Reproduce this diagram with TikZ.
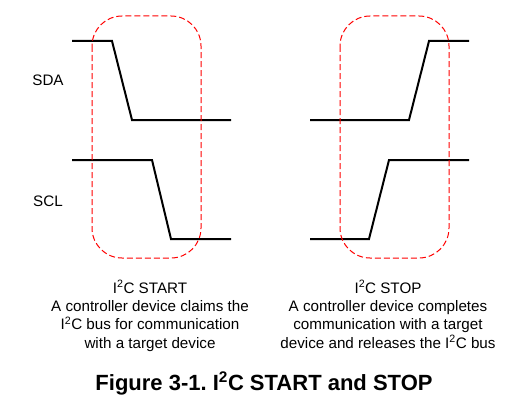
\documentclass[tikz,border=0pt]{standalone}
\usepackage{fontspec}
\setmainfont{Liberation Sans}
\begin{document}
\frenchspacing
\begin{tikzpicture}[x=1pt,y=-1pt,
	senal/.style={line width=2pt},
	marco/.style={draw=red,line width=1pt,dash pattern=on 6pt off 3pt,rounded corners=30pt},
	texto/.style={font=\fontsize{15.2}{18.3}\selectfont,anchor=base,align=center}]
\useasboundingbox (0,0) rectangle (524,404);

% condicion START
	\draw[senal] (72,41) -- (112,41) -- (132,120) -- (231,120);
	\draw[senal] (72,160) -- (152,160) -- (171,239) -- (231,239);

% condicion STOP
	\draw[senal] (310,120) -- (409,120) -- (429,41) -- (469,41);
	\draw[senal] (310,239) -- (369,239) -- (389,160) -- (469,160);

% marcos
	\foreach \x in {92, 340}
		\draw[marco] (\x,16) rectangle ++(109,242);

% nombres de las lineas
	\node[texto] (sda) at (48,85) {SDA};
	\node[texto] (scl) at (48,206) {SCL};

% descripciones (base = ultima linea)
	\node[texto] (inicio) at (150,348) {I\textsuperscript{2}C START\\A controller device claims the\\I\textsuperscript{2}C bus for communication\\with a target device};
	\node[texto] (fin) at (388,348) {I\textsuperscript{2}C STOP\\A controller device completes\\communication with a target\\device and releases the I\textsuperscript{2}C bus};
	\node[font=\fontsize{22}{26}\selectfont\bfseries,anchor=base] (titulo) at (264,390) {Figure 3-1. I\textsuperscript{2}C START and STOP};
\end{tikzpicture}
\end{document}
